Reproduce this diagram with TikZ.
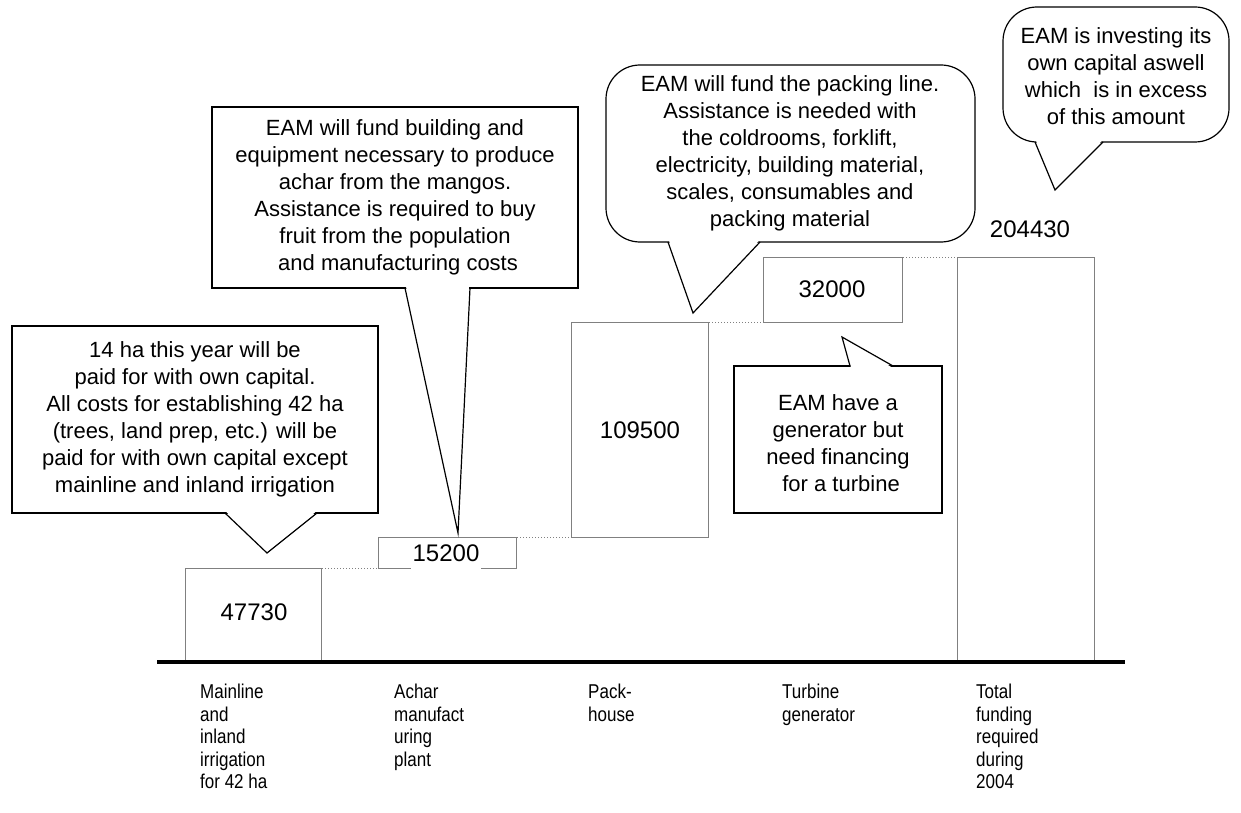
\documentclass[tikz,border=0pt]{standalone}
\usepackage{fontspec}
\setmainfont{Liberation Sans}
\newfontfamily\labelfont[FakeStretch=0.85]{Liberation Sans}
\usetikzlibrary{calc}
\definecolor{barline}{HTML}{808080}

\begin{document}
\begin{tikzpicture}[x=1pt,y=-1pt,
  bar/.style={draw=barline, line width=1.3pt, fill=white, inner sep=0pt, anchor=north west},
  link/.style={draw=barline, dotted, line width=1pt},
  balloon/.style={draw=black, line width=1.2pt, fill=white},
  beak/.style={draw=black, line width=1.2pt, line join=miter},
  note/.style={align=center, font=\fontsize{22}{27}\selectfont, inner sep=0pt},
  value/.style={font=\fontsize{24}{28}\selectfont, inner sep=0pt},
  axislabel/.style={align=left, anchor=north west, font=\labelfont\fontsize{20}{22.5}\selectfont, inner sep=0pt}
]
\useasboundingbox (0,0) rectangle (1241,813);

% --- waterfall bars -------------------------------------------------
\node[bar, minimum width=136pt, minimum height=94pt]  (b1) at (185,568) {};
\node[bar, minimum width=138pt, minimum height=31pt]  (b2) at (378,537) {};
\node[bar, minimum width=137pt, minimum height=215pt] (b3) at (571,322) {};
\node[bar, minimum width=139pt, minimum height=65pt]  (b4) at (763,257) {};
\node[bar, minimum width=137pt, minimum height=405pt] (b5) at (957,257) {};

% dotted steps from one bar top to the next
\coordinate (s1) at ($(b1.north east)+(96,0)$);
\coordinate (s2) at ($(b2.north east)+(96,0)$);
\coordinate (s3) at ($(b3.north east)+(105,0)$);
\coordinate (s4) at ($(b4.north east)+(93,0)$);
\draw[link] (b1.north east) -- (s1);
\draw[link] (b2.north east) -- (s2);
\draw[link] (b3.north east) -- (s3);
\draw[link] (b4.north east) -- (s4);

% axis
\coordinate (axL) at (157,662);
\coordinate (axR) at (1125,662);
\draw[line width=4pt] (axL) -- (axR);

% values
\node[value] (v1) at (254,612) {47730};
\node[value, fill=white, anchor=base, text depth=8pt, inner xsep=2pt] (v2) at (446,561) {15200};
\node[value] (v3) at (640,430) {109500};
\node[value] (v4) at (832,289) {32000};
\node[value] (v5) at (1030,229) {204430};

% category labels
\node[axislabel] (c1) at (200,684) {Mainline\\and\\inland\\irrigation\\for 42 ha};
\node[axislabel] (c2) at (394,684) {Achar\\manufact\\uring\\plant};
\node[axislabel] (c3) at (588,684) {Pack-\\house};
\node[axislabel] (c4) at (782,684) {Turbine\\generator};
\node[axislabel] (c5) at (976,684) {Total\\funding\\required\\during\\2004};

% --- callouts -------------------------------------------------------
% irrigation
\draw[balloon] (12,326) rectangle (378,513);
\coordinate (p1a) at (225,513); \coordinate (p1t) at (267,553); \coordinate (p1b) at (317,513);
\fill[white] ($(p1a)+(1,-1.5)$) -- (p1t) -- ($(p1b)+(-1,-1.5)$) -- cycle;
\draw[beak] (p1a) -- (p1t) -- (p1b);
\node[note] (n1) at (195,419) {14 ha this year will be\\paid for with own capital.\\All costs for establishing 42 ha\\(trees, land prep, etc.) will be\\paid for with own capital except\\mainline and inland irrigation};

% achar plant
\draw[balloon] (212,107) rectangle (578,288);
\coordinate (p2a) at (405,288); \coordinate (p2t) at (458,533); \coordinate (p2b) at (470,288);
\fill[white] ($(p2a)+(1,-1.5)$) -- (p2t) -- ($(p2b)+(-1,-1.5)$) -- cycle;
\draw[beak] (p2a) -- (p2t) -- (p2b);
\node[note] (n2) at (395,197) {EAM will fund building and\\equipment necessary to produce\\achar from the mangos.\\Assistance is required to buy\\fruit from the population\\\ and manufacturing costs};

% pack-house
\draw[balloon, rounded corners=34pt] (606,65) rectangle (975,242);
\coordinate (p3a) at (668,242); \coordinate (p3t) at (693,313); \coordinate (p3b) at (760,242);
\fill[white] ($(p3a)+(1,-1.5)$) -- (p3t) -- ($(p3b)+(-1,-1.5)$) -- cycle;
\draw[beak] (p3a) -- (p3t) -- (p3b);
\node[note] (n3) at (790,153) {EAM will fund the packing line.\\Assistance is needed with\\the coldrooms, forklift,\\electricity, building material,\\scales, consumables and\\packing material};

% total
\draw[balloon, rounded corners=34pt] (1003,7) rectangle (1229,142);
\coordinate (p4a) at (1035,142); \coordinate (p4t) at (1055,190); \coordinate (p4b) at (1103,142);
\fill[white] ($(p4a)+(1,-1.5)$) -- (p4t) -- ($(p4b)+(-1,-1.5)$) -- cycle;
\draw[beak] (p4a) -- (p4t) -- (p4b);
\node[note] (n4) at (1116,76) {EAM is investing its\\own capital aswell\\which\ \ is in excess\\of this amount};

% turbine
\draw[balloon] (734,366) rectangle (942,513);
\coordinate (p5a) at (850,366); \coordinate (p5t) at (842,337); \coordinate (p5b) at (893,366);
\fill[white] ($(p5a)+(1,1.5)$) -- (p5t) -- ($(p5b)+(-1,1.5)$) -- cycle;
\draw[beak] (p5a) -- (p5t) -- (p5b);
\node[note] (n5) at (838,443) {EAM have a\\generator but\\need financing\\\ for a turbine};

\end{tikzpicture}
\end{document}
